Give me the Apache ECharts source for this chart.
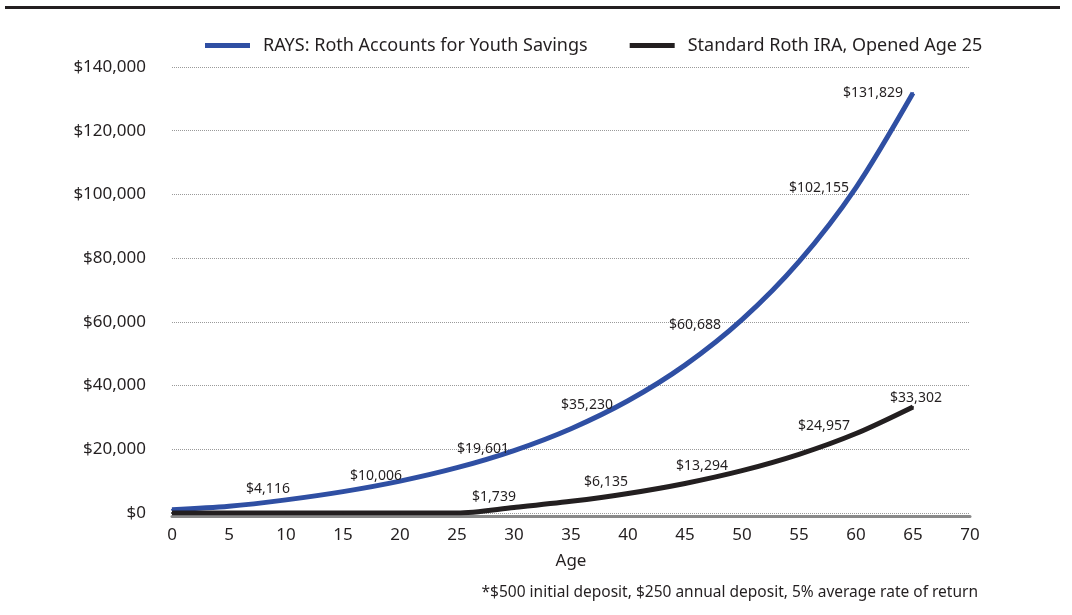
<!DOCTYPE html>
<html>
<head>
<meta charset="utf-8">
<script src="https://cdn.jsdelivr.net/npm/echarts@6/dist/echarts.min.js"></script>
<style>
  html, body { margin: 0; padding: 0; background: #ffffff; }
  #chart { width: 1072px; height: 615px; }
</style>
</head>
<body>
<div id="chart"></div>
<script>
// Account balance by age
const ages = [0, 5, 10, 15, 20, 25, 30, 35, 40, 45, 50, 55, 60, 65];
const raysBalance = [1000, 2089, 4116, 6704, 10006, 14222, 19601, 26467, 35230, 46414, 60688, 78905, 102155, 131829];
const rothBalance = [0, 0, 0, 0, 0, 0, 1739, 3670, 6135, 9281, 13294, 18420, 24957, 33302];
const raysLabelAges = [10, 20, 30, 40, 50, 60, 65];
const rothLabelAges = [30, 40, 50, 60, 65];
const seriesNames = ['RAYS: Roth Accounts for Youth Savings', 'Standard Roth IRA, Opened Age 25'];
const xTicks = { min: 0, max: 70, step: 5 };
const yTicks = { min: 0, max: 140000, step: 20000 };
const axisTitle = 'Age';
const footnote = '*$500 initial deposit, $250 annual deposit, 5% average rate of return';

// label placement around each annotated point (px)
const raysLabelOffset = { 10: [-18, -11], 20: [-24, -5], 30: [-31, -1.5], 40: [-41, 4], 50: [-47, 5], 60: [-37, 0], 65: [-40, 0] };
const rothLabelOffset = { 30: [-20, -10.5], 40: [-22, -11.5], 50: [-40, -5], 60: [-32, -7.5], 65: [3, -9] };

const BLUE = '#2f4fa3';
const DARK = '#231f20';
const FONT = '"Noto Sans", "DejaVu Sans", sans-serif';

function money(v) {
  return '$' + String(Math.round(v)).replace(/\B(?=(\d{3})+(?!\d))/g, ',');
}

function buildPoints(values, labelAges, offsets) {
  return values.map(function (v, i) {
    const age = ages[i];
    const show = labelAges.indexOf(age) >= 0;
    return {
      value: [age, v],
      label: show ? { show: true, offset: offsets[age] } : { show: false }
    };
  });
}

function lineSeries(name, values, labelAges, offsets, color, z) {
  return {
    name: name,
    type: 'line',
    smooth: 0.3,
    symbol: 'circle',
    symbolSize: 2,
    showSymbol: true,
    z: z,
    itemStyle: { color: color, borderWidth: 0 },
    lineStyle: { color: color, width: 5, cap: 'butt' },
    label: {
      position: 'inside',
      color: DARK,
      fontFamily: FONT,
      fontSize: 14,
      formatter: function (p) { return money(p.value[1]); }
    },
    emphasis: { disabled: true },
    data: buildPoints(values, labelAges, offsets)
  };
}

const chart = echarts.init(document.getElementById('chart'), null, { renderer: 'canvas' });

chart.setOption({
  animation: false,
  backgroundColor: '#ffffff',
  textStyle: { fontFamily: FONT },
  grid: { left: 172, right: 102, top: 67, bottom: 102, containLabel: false },
  legend: {
    left: 205,
    top: 31.5,
    padding: 0,
    icon: 'rect',
    itemWidth: 45,
    itemHeight: 5,
    itemGap: 42,
    selectedMode: false,
    textStyle: { color: DARK, fontSize: 18, fontFamily: FONT, padding: [0, 0, 8, 8], lineHeight: 20 },
    data: seriesNames
  },
  xAxis: {
    type: 'value',
    min: xTicks.min,
    max: xTicks.max,
    interval: xTicks.step,
    offset: 3,
    name: axisTitle,
    nameLocation: 'middle',
    nameGap: 37,
    nameTextStyle: { color: DARK, fontSize: 17, fontFamily: FONT },
    axisLine: { show: true, onZero: false, lineStyle: { color: '#8a8a8a', width: 3 } },
    axisTick: { show: false },
    splitLine: { show: false },
    axisLabel: { color: DARK, fontSize: 17, fontFamily: FONT, margin: 11 }
  },
  yAxis: {
    type: 'value',
    min: yTicks.min,
    max: yTicks.max,
    interval: yTicks.step,
    axisLine: { show: false },
    axisTick: { show: false },
    splitLine: { show: true, lineStyle: { color: '#9a9a9a', width: 1, type: [1, 1] } },
    axisLabel: { color: DARK, fontSize: 17, fontFamily: FONT, margin: 26, formatter: money }
  },
  series: [
    lineSeries(seriesNames[0], raysBalance, raysLabelAges, raysLabelOffset, BLUE, 3),
    lineSeries(seriesNames[1], rothBalance, rothLabelAges, rothLabelOffset, DARK, 4)
  ],
  graphic: [
    {
      type: 'rect',
      left: 5,
      top: 6,
      shape: { width: 1055, height: 3 },
      style: { fill: DARK },
      silent: true
    },
    {
      type: 'text',
      right: 1072 - 978,
      top: 585,
      style: { text: footnote, fill: DARK, fontSize: 15.5, fontFamily: FONT },
      silent: true
    }
  ]
});
</script>
</body>
</html>
